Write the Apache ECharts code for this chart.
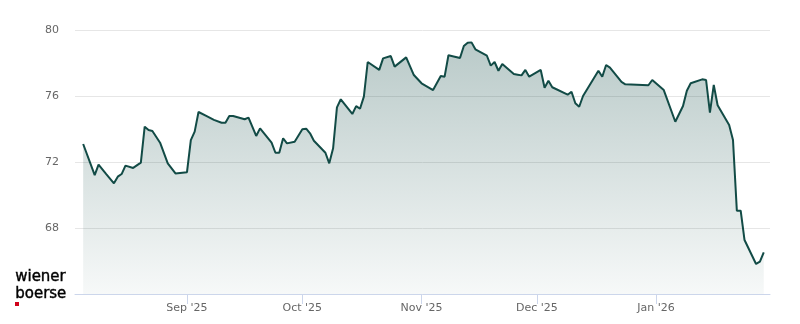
<!DOCTYPE html>
<html>
<head>
<meta charset="utf-8">
<script src="https://cdn.jsdelivr.net/npm/echarts@6/dist/echarts.min.js"></script>
<style>
html,body{margin:0;padding:0;background:#fff;}
#chart{width:800px;height:324px;}
</style>
</head>
<body>
<div id="chart"></div>
<script>
const dates = [
"2025-08-05","2025-08-08","2025-08-09","2025-08-11","2025-08-13","2025-08-14","2025-08-15","2025-08-16",
"2025-08-18","2025-08-20","2025-08-21","2025-08-22","2025-08-23","2025-08-25","2025-08-27","2025-08-29",
"2025-09-01","2025-09-02","2025-09-03","2025-09-04","2025-09-06","2025-09-08","2025-09-10","2025-09-11",
"2025-09-12","2025-09-13","2025-09-16","2025-09-17","2025-09-19","2025-09-20","2025-09-23","2025-09-24",
"2025-09-25","2025-09-26","2025-09-27","2025-09-29","2025-10-01","2025-10-02","2025-10-03","2025-10-04",
"2025-10-07","2025-10-08","2025-10-09","2025-10-10","2025-10-11","2025-10-14","2025-10-15","2025-10-16",
"2025-10-17","2025-10-18","2025-10-21","2025-10-22","2025-10-24","2025-10-25","2025-10-28","2025-10-30",
"2025-11-01","2025-11-04","2025-11-06","2025-11-07","2025-11-08","2025-11-11","2025-11-12","2025-11-13",
"2025-11-14","2025-11-15","2025-11-18","2025-11-19","2025-11-20","2025-11-21","2025-11-22","2025-11-25",
"2025-11-26","2025-11-27","2025-11-28","2025-11-29","2025-12-02","2025-12-03","2025-12-04","2025-12-05",
"2025-12-09","2025-12-10","2025-12-11","2025-12-12","2025-12-13","2025-12-17","2025-12-18","2025-12-19",
"2025-12-20","2025-12-23","2025-12-24","2025-12-30","2025-12-31","2026-01-03","2026-01-06","2026-01-08",
"2026-01-09","2026-01-10","2026-01-13","2026-01-14","2026-01-15","2026-01-16","2026-01-17","2026-01-20",
"2026-01-21","2026-01-22","2026-01-23","2026-01-24","2026-01-27","2026-01-28","2026-01-29"
];
const prices = [
73.09,71.21,71.84,71.27,70.71,71.11,71.27,71.78,
71.64,71.96,74.14,73.94,73.88,73.17,71.92,71.31,
71.38,73.33,73.84,75.03,74.79,74.55,74.38,74.38,
74.79,74.79,74.59,74.69,73.58,74.04,73.17,72.56,
72.56,73.44,73.13,73.23,73.98,74.02,73.74,73.29,
72.56,71.92,72.83,75.31,75.80,74.91,75.39,75.23,
75.96,78.06,77.58,78.28,78.42,77.78,78.34,77.27,
76.77,76.36,77.21,77.17,78.47,78.30,79.03,79.23,
79.25,78.83,78.44,77.84,78.06,77.53,77.94,77.33,
77.29,77.25,77.58,77.17,77.58,76.50,76.93,76.53,
76.08,76.26,75.56,75.35,76.00,77.53,77.17,77.88,
77.72,76.85,76.71,76.65,76.97,76.36,74.44,75.39,
76.32,76.77,77.01,76.97,74.99,76.67,75.44,74.24,
73.33,69.05,69.05,67.27,65.82,65.96,66.53
];
const xTickDates = ["2025-09-01","2025-10-01","2025-11-01","2025-12-01","2026-01-01"];
const xTickLabels = ["Sep '25","Oct '25","Nov '25","Dec '25","Jan '26"];
const yTicks = [68,72,76,80];

function toTs(s){ const p=s.split('-').map(Number); return Date.UTC(p[0],p[1]-1,p[2]); }
const seriesData = dates.map((d,i)=>[toTs(d), prices[i]]);
const tickTs = xTickDates.map(toTs);

const chart = echarts.init(document.getElementById('chart'), null, {renderer:'canvas'});
chart.setOption({
  animation:false,
  backgroundColor:'#ffffff',
  grid:{left:75, right:30, top:30, bottom:30, containLabel:false},
  xAxis:{
    type:'value',
    min:Date.UTC(2025,7,2,21),
    max:Date.UTC(2026,0,30,15),
    axisLine:{show:true, lineStyle:{color:'#ccd6eb', width:1}},
    axisTick:{show:true, length:10, lineStyle:{color:'#ccd6eb'}, customValues:tickTs},
    axisLabel:{
      customValues:tickTs,
      color:'#666666', fontSize:11, fontFamily:'DejaVu Sans', margin:9,
      hideOverlap:false,
      formatter:function(v){ const i=tickTs.indexOf(v); return i>=0?xTickLabels[i]:''; }
    },
    splitLine:{show:false}
  },
  yAxis:{
    type:'value', min:64, max:80, interval:4,
    axisLine:{show:false}, axisTick:{show:false},
    axisLabel:{
      color:'#666666', fontSize:11, fontFamily:'DejaVu Sans', margin:16,
      formatter:function(v){ return yTicks.indexOf(v)>=0?String(v):''; }
    },
    splitLine:{lineStyle:{color:'#e6e6e6', width:1}}
  },
  series:[{
    type:'line',
    data:seriesData,
    symbol:'none',
    smooth:false,
    lineStyle:{color:'#124b46', width:2},
    areaStyle:{
      color:new echarts.graphic.LinearGradient(0,0,0,1,[
        {offset:0, color:'rgba(18,75,70,0.42)'},
        {offset:1, color:'rgba(18,75,70,0.05)'}
      ])
    }
  }],
  graphic:[
    {type:'text', left:15, top:269, style:{text:'wiener', font:'15px "DejaVu Sans"', fill:'#000000', stroke:'#000000', lineWidth:0.4}},
    {type:'text', left:15, top:286, style:{text:'boerse', font:'15px "DejaVu Sans"', fill:'#000000', stroke:'#000000', lineWidth:0.4}},
    {type:'rect', left:15, top:302, shape:{width:4, height:4}, style:{fill:'#d0021b'}}
  ]
});
</script>
</body>
</html>
